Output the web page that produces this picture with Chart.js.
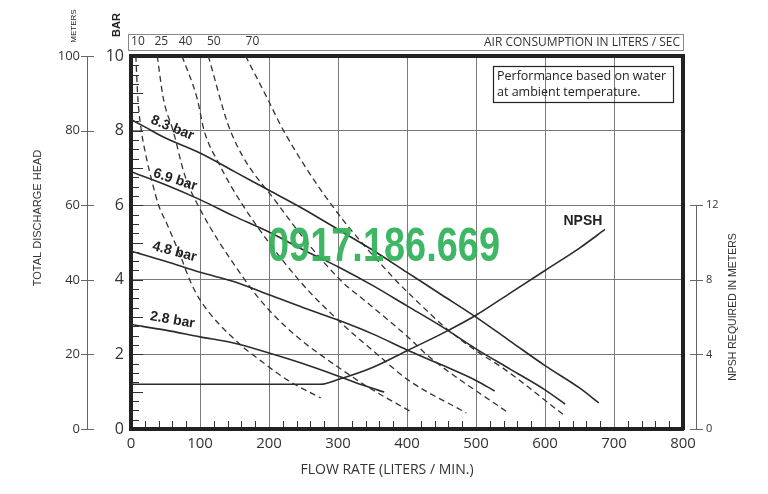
<!DOCTYPE html>
<html><head><meta charset="utf-8">
<script src="https://cdn.jsdelivr.net/npm/chart.js@4/dist/chart.umd.min.js"></script>
<style>html,body{margin:0;padding:0;background:#fff;}</style>
</head><body>
<canvas id="c" width="768" height="494"></canvas>
<script>
// ---------- data ----------
const meterTicks = [0, 20, 40, 60, 80, 100];
const npshTicks = [0, 4, 8, 12];
const airLabels = ['10', '25', '40', '50', '70'];
const airLabelFlow = [10, 44, 79, 120, 176];           // flow where each air label sits on the top scale
const curveLabels = ['8.3 bar', '6.9 bar', '4.8 bar', '2.8 bar'];

// head (bar) vs flow (L/min) at each air inlet pressure
const head83 = [[0,8.3],[20,8.1],[50,7.8],[100,7.4],[150,6.9],[200,6.4],[250,5.9],[300,5.35],[350,4.8],[400,4.2],[450,3.6],[500,3.0],[550,2.35],[600,1.7],[650,1.1],[678,0.7]];
const head69 = [[0,6.9],[50,6.55],[100,6.15],[150,5.7],[200,5.28],[250,4.8],[300,4.35],[350,3.85],[400,3.3],[450,2.75],[500,2.15],[550,1.6],[600,1.05],[629,0.67]];
const head48 = [[0,4.77],[50,4.5],[100,4.2],[150,3.95],[200,3.6],[250,3.25],[300,2.92],[350,2.55],[400,2.12],[450,1.72],[500,1.3],[527,1.02]];
const head28 = [[0,2.8],[50,2.65],[100,2.47],[150,2.3],[200,2.04],[250,1.75],[300,1.42],[340,1.15],[367,0.99]];

// NPSH required (m) vs flow
const npsh = [[0,2.4],[275,2.4],[300,2.65],[350,3.3],[400,4.2],[450,5.1],[500,6.1],[550,7.3],[600,8.5],[650,9.7],[687,10.7]];

// air consumption curves (bar vs flow)
const air10 = [[7,10],[10,8.85],[15,8],[22,7.3],[30,6.67],[40,6],[52,5.5],[74,4.53],[85,4],[100,3.46],[159,2.25],[176,2],[227,1.31],[275,0.83]];
const air25 = [[38,10],[47,8.85],[61,8],[78,6.8],[97,6],[165,4],[200,3.19],[246,2.39],[274,2],[300,1.66],[343,1.13],[406,0.46]];
const air40 = [[74,10],[96,8.85],[106,8],[127,7.13],[162,6],[243,4],[300,2.92],[357,2],[402,1.31],[486,0.43]];
const air50 = [[112,10],[144,8],[214,6],[303,4],[343,3.38],[406,2.39],[428,2],[547,0.43]];
const air70 = [[166,10],[198,8.85],[221,8],[291,6],[383,4],[402,3.65],[460,2.65],[508,2],[537,1.66],[627,0.38]];

// ---------- chart ----------
const F = '"Open Sans", "Noto Sans", sans-serif';
const FA = '"Liberation Sans", Arial, sans-serif';
const pts = a => a.map(p => ({x: p[0], y: p[1]}));
const solid = (d, axis) => ({data: pts(d), yAxisID: axis || 'y', borderColor: '#2b2b2b', borderWidth: 1.6, pointRadius: 0, cubicInterpolationMode: 'monotone', fill: false});
const dashed = d => ({data: pts(d), yAxisID: 'y', borderColor: '#333', borderWidth: 1.3, borderDash: [6, 4], pointRadius: 0, cubicInterpolationMode: 'monotone', fill: false});

const labelAnchors = [[60, 8.07, 22], [64, 6.68, 18], [63, 4.75, 15], [60, 2.92, 10]];

const decor = {
  id: 'decor',
  afterDraw(chart) {
    const {ctx, chartArea: a, scales: s} = chart;
    ctx.save();
    // minor ticks inside the plot
    ctx.strokeStyle = '#333'; ctx.lineWidth = 1;
    ctx.beginPath();
    for (let f = 20; f < 800; f += 20) {
      if (f % 100 === 0) continue;
      const px = Math.round(s.x.getPixelForValue(f)) + 0.5;
      ctx.moveTo(px, a.bottom - 2); ctx.lineTo(px, a.bottom - 8);
    }
    for (let b = 0.25; b < 10; b += 0.25) {
      const py = Math.round(s.y.getPixelForValue(b)) + 0.5;
      const len = Math.abs(b - Math.round(b)) < 1e-6 ? 10 : 6;
      ctx.moveTo(a.left + 2, py); ctx.lineTo(a.left + 2 + len, py);
    }
    ctx.stroke();

    // meters axis line and ticks
    ctx.strokeStyle = '#666';
    ctx.beginPath();
    ctx.moveTo(87.5, s.yM.getPixelForValue(0)); ctx.lineTo(87.5, s.yM.getPixelForValue(100));
    meterTicks.forEach(v => { const py = Math.round(s.yM.getPixelForValue(v)) + 0.5; ctx.moveTo(81, py); ctx.lineTo(94, py); });
    // NPSH axis line and ticks
    ctx.moveTo(696.5, s.yN.getPixelForValue(0)); ctx.lineTo(696.5, s.yN.getPixelForValue(12));
    npshTicks.forEach(v => { const py = Math.round(s.yN.getPixelForValue(v)) + 0.5; ctx.moveTo(690, py); ctx.lineTo(703, py); });
    ctx.stroke();

    // top air consumption box
    ctx.strokeStyle = '#888'; ctx.lineWidth = 1;
    ctx.strokeRect(128.5, 34.5, a.right - 128, 16);
    ctx.fillStyle = '#333';
    ctx.font = '12px ' + F; ctx.textAlign = 'right'; ctx.textBaseline = 'middle';
    ctx.fillText('AIR CONSUMPTION IN LITERS / SEC', a.right - 3, 43);

    // rotated unit labels
    const rot = (t, x, y, font) => { ctx.save(); ctx.translate(x, y); ctx.rotate(-Math.PI / 2); ctx.font = font; ctx.textAlign = 'center'; ctx.textBaseline = 'middle'; ctx.fillText(t, 0, 0); ctx.restore(); };
    ctx.fillStyle = '#222';
    rot('BAR', 117, 25, 'bold 11px ' + FA);
    rot('METERS', 74, 26, '8px ' + FA);
    ctx.fillStyle = '#333';
    rot('TOTAL DISCHARGE HEAD', 38, 218, '11px ' + FA);
    rot('NPSH REQUIRED IN METERS', 733, 307, '10.5px ' + FA);

    // x title
    ctx.font = '14px ' + F; ctx.textAlign = 'center'; ctx.textBaseline = 'middle';
    ctx.fillText('FLOW RATE (LITERS / MIN.)', 387, 470);

    // info box
    ctx.strokeStyle = '#222'; ctx.lineWidth = 1.2;
    ctx.strokeRect(493.5, 66.5, 180, 36);
    ctx.fillStyle = '#222'; ctx.font = '12.5px ' + F; ctx.textAlign = 'left';
    ctx.fillText('Performance based on water', 497, 76);
    ctx.fillText('at ambient temperature.', 497, 92);

    // curve labels
    ctx.font = 'bold 14px ' + FA; ctx.fillStyle = '#222';
    curveLabels.forEach((t, i) => {
      const [fx, by, ang] = labelAnchors[i];
      ctx.save();
      ctx.translate(s.x.getPixelForValue(fx), s.y.getPixelForValue(by));
      ctx.rotate(ang * Math.PI / 180);
      ctx.textAlign = 'center'; ctx.textBaseline = 'middle';
      ctx.fillText(t, 0, 0);
      ctx.restore();
    });
    ctx.textAlign = 'center'; ctx.textBaseline = 'middle';
    ctx.fillText('NPSH', s.x.getPixelForValue(655), s.y.getPixelForValue(5.58));

    // watermark
    ctx.save();
    ctx.font = 'bold 48px "Liberation Sans Narrow", "Liberation Sans", sans-serif';
    const wm = '0917.186.669';
    const w = ctx.measureText(wm).width;
    ctx.translate(384, 248);
    ctx.scale(232 / w, 1);
    ctx.fillStyle = 'rgba(52,178,92,0.95)';
    ctx.textAlign = 'center'; ctx.textBaseline = 'middle';
    ctx.fillText(wm, 0, 0);
    ctx.restore();

    ctx.restore();
  }
};

new Chart(document.getElementById('c'), {
  type: 'line',
  data: {
    datasets: [
      solid(head83), solid(head69), solid(head48), solid(head28),
      solid(npsh, 'yN'),
      dashed(air10), dashed(air25), dashed(air40), dashed(air50), dashed(air70)
    ]
  },
  options: {
    responsive: false, animation: false, devicePixelRatio: 1,
    layout: {padding: 0},
    plugins: {legend: {display: false}, tooltip: {enabled: false}},
    scales: {
      x: {
        type: 'linear', position: 'bottom', min: 0, max: 800,
        ticks: {stepSize: 100, font: {size: 15, family: F}, color: '#333', padding: 6, maxRotation: 0},
        grid: {color: '#7a7a7a', lineWidth: 1, drawTicks: false},
        border: {width: 4, color: '#222'},
        afterFit: sc => { sc.height = 65; }
      },
      xTop: {
        type: 'linear', position: 'top', min: 0, max: 800,
        afterBuildTicks: sc => { sc.ticks = airLabelFlow.map(v => ({value: v})); },
        ticks: {callback: (v, i) => airLabels[i], font: {size: 12, family: F}, color: '#333', padding: 7, maxRotation: 0, autoSkip: false},
        grid: {drawOnChartArea: false, drawTicks: false},
        border: {width: 4, color: '#222'},
        afterFit: sc => { sc.height = 56; }
      },
      y: {
        type: 'linear', position: 'left', min: 0, max: 10, weight: 0,
        ticks: {stepSize: 2, font: {size: 16, family: F}, color: '#333', padding: 7},
        grid: {color: '#7a7a7a', lineWidth: 1, drawTicks: false},
        border: {width: 4, color: '#222'},
        afterFit: sc => { sc.width = 35; }
      },
      yM: {
        type: 'linear', position: 'left', min: 0, max: 100, weight: 1,
        afterBuildTicks: sc => { sc.ticks = meterTicks.map(v => ({value: v})); },
        ticks: {font: {size: 13, family: F}, color: '#333', padding: 16},
        grid: {drawOnChartArea: false, drawTicks: false},
        border: {display: false},
        afterFit: sc => { sc.width = 96; }
      },
      yN: {
        type: 'linear', position: 'right', min: 0, max: 20,
        afterBuildTicks: sc => { sc.ticks = npshTicks.map(v => ({value: v})); },
        ticks: {font: {size: 11, family: F}, color: '#333', padding: 23},
        grid: {drawOnChartArea: false, drawTicks: false},
        border: {width: 4, color: '#222'},
        afterFit: sc => { sc.width = 85; }
      }
    }
  },
  plugins: [decor]
});
</script>
</body></html>
